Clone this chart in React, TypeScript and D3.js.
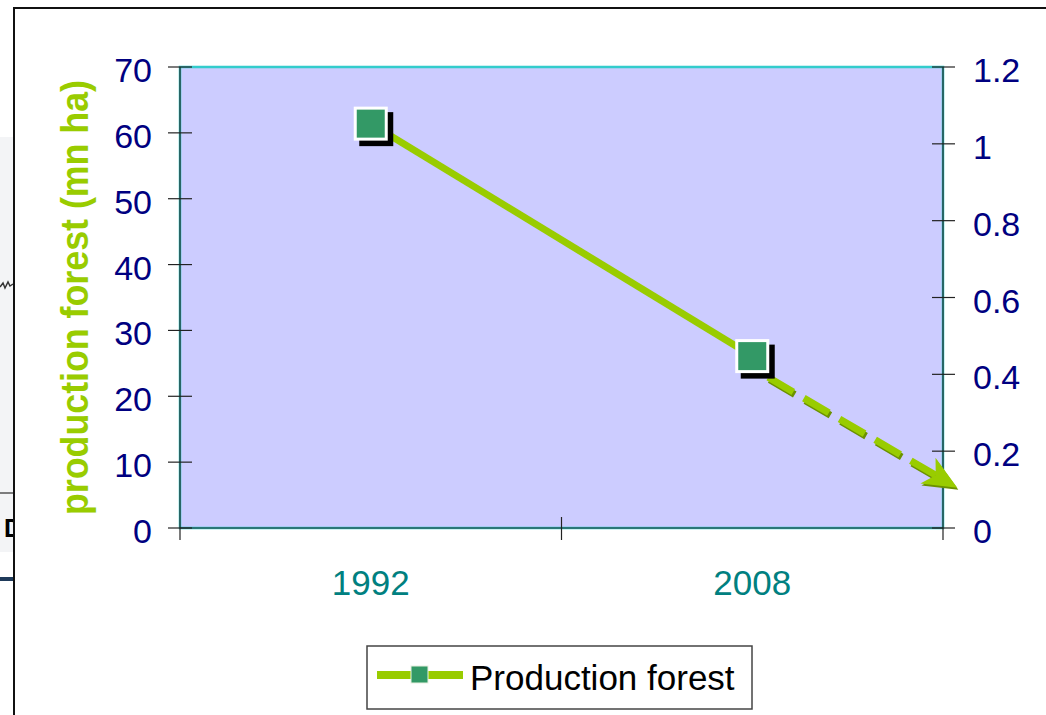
import { useEffect, useRef } from 'react';
import * as d3 from 'd3';

// chart data
const categories = ['1992', '2008'];
const categoryYears = [1992, 2008];
const productionForest = [61.4, 26.1];
const projectionYears = [2008, 2016.6];
const projectionValues = [24.3, 6.1];
const leftTicks = [0, 10, 20, 30, 40, 50, 60, 70];
const rightTicks = [0, 0.2, 0.4, 0.6, 0.8, 1, 1.2];
const rightTickLabels = ['0', '0.2', '0.4', '0.6', '0.8', '1', '1.2'];
const seriesName = 'Production forest';
const axisTitle = 'production forest (mn ha)';

const W = 1046;
const H = 715;
const FONT = '"Liberation Sans", Arial, sans-serif';
const LINE = '#99cc00';
const MARK = '#339966';
const NAVY = '#000080';

export default function App() {
  const svgRef = useRef<SVGSVGElement>(null);

  useEffect(() => {
    if (!svgRef.current) return;
    const svg = d3.select(svgRef.current);
    svg.selectAll('*').remove();

    const left = 180;
    const right = 943;
    const top = 67;
    const bottom = 528;

    const x = d3.scaleBand<string>().domain(categories).range([left, right]);
    const cx = (c: string) => (x(c) as number) + x.bandwidth() / 2;
    const yL = d3.scaleLinear().domain([0, 70]).range([bottom, top]);
    const yR = d3.scaleLinear().domain([0, 1.2]).range([bottom, top]);
    const xYear = d3.scaleLinear().domain(categoryYears).range(categories.map(cx));

    // leftover bits of the slide behind the chart
    svg.append('rect').attr('x', 0).attr('y', 137).attr('width', 14).attr('height', 415).attr('fill', '#f3f4f6');
    svg.append('line').attr('x1', 0).attr('x2', 14).attr('y1', 493).attr('y2', 493).attr('stroke', '#555').attr('stroke-width', 1.5);
    svg.append('path').attr('d', 'M0,287 L3,283 L5,288 L8,282 L10,286 L13,284')
      .attr('fill', 'none').attr('stroke', '#333').attr('stroke-width', 1.5);
    svg.append('text').attr('x', 4).attr('y', 537).attr('font-family', FONT).attr('font-weight', 'bold')
      .attr('font-size', 25).attr('fill', '#000').text('D');
    svg.append('rect').attr('x', 0).attr('y', 577).attr('width', 14).attr('height', 4).attr('fill', '#1f3a5a');

    // white slide frame
    svg.append('rect').attr('x', 14).attr('y', 8).attr('width', W).attr('height', H).attr('fill', '#fff');
    svg.append('path').attr('d', `M14,${H} L14,8 L${W},8`).attr('fill', 'none').attr('stroke', '#111').attr('stroke-width', 2);

    // plot area
    svg.append('rect')
      .attr('x', left).attr('y', top)
      .attr('width', right - left).attr('height', bottom - top)
      .attr('fill', '#ccccff').attr('stroke', '#33cccc').attr('stroke-width', 2.5);

    // axis lines
    const axes = svg.append('g').attr('stroke', '#222').attr('stroke-width', 1.2);
    axes.append('line').attr('x1', left).attr('x2', left).attr('y1', top).attr('y2', bottom);
    axes.append('line').attr('x1', right).attr('x2', right).attr('y1', top).attr('y2', bottom);
    axes.append('line').attr('x1', left).attr('x2', right).attr('y1', bottom).attr('y2', bottom);

    // left ticks + labels
    leftTicks.forEach(t => {
      axes.append('line').attr('x1', left - 12).attr('x2', left + 12).attr('y1', yL(t)).attr('y2', yL(t));
      svg.append('text')
        .attr('x', 152).attr('y', yL(t) + 3)
        .attr('text-anchor', 'end').attr('dominant-baseline', 'central')
        .attr('font-family', FONT).attr('font-size', 34).attr('fill', NAVY)
        .text(String(t));
    });

    // right ticks + labels
    rightTicks.forEach((t, i) => {
      axes.append('line').attr('x1', right - 11).attr('x2', right + 12).attr('y1', yR(t)).attr('y2', yR(t));
      svg.append('text')
        .attr('x', 973).attr('y', yR(t) + 3)
        .attr('dominant-baseline', 'central')
        .attr('font-family', FONT).attr('font-size', 34).attr('fill', NAVY)
        .text(rightTickLabels[i]);
    });

    // category ticks at band edges
    const edges = [left, ...categories.slice(1).map(c => x(c) as number), right];
    edges.forEach((e, i) => {
      const inner = i > 0 && i < edges.length - 1;
      axes.append('line').attr('x1', e).attr('x2', e).attr('y1', inner ? bottom - 11 : bottom).attr('y2', bottom + 12);
    });
    categories.forEach(c => {
      svg.append('text')
        .attr('x', cx(c)).attr('y', 595)
        .attr('text-anchor', 'middle')
        .attr('font-family', FONT).attr('font-size', 35).attr('fill', '#008080')
        .text(c);
    });

    // axis title
    svg.append('text')
      .attr('transform', 'translate(88,297.5) rotate(-90)')
      .attr('text-anchor', 'middle')
      .attr('textLength', 435).attr('lengthAdjust', 'spacingAndGlyphs')
      .attr('font-family', FONT).attr('font-weight', 'bold').attr('font-size', 39).attr('fill', LINE)
      .text(axisTitle);

    // projection (dashed arrow)
    const p0: [number, number] = [xYear(projectionYears[0]), yL(projectionValues[0])];
    const p1: [number, number] = [xYear(projectionYears[1]), yL(projectionValues[1])];
    const dx = p1[0] - p0[0];
    const dy = p1[1] - p0[1];
    const len = Math.hypot(dx, dy);
    const ux = dx / len;
    const uy = dy / len;
    const nx = -uy;
    const ny = ux;
    const headLen = 34;
    const lineEnd: [number, number] = [p1[0] - ux * (headLen - 12), p1[1] - uy * (headLen - 12)];
    const dashed = d3.line()([p0, lineEnd]) as string;
    svg.append('path').attr('d', dashed).attr('transform', 'translate(1.5,2.5)')
      .attr('stroke', '#6b9100').attr('stroke-width', 7).attr('fill', 'none')
      .attr('stroke-dasharray', '29 12.3').attr('stroke-dashoffset', 22.8);
    svg.append('path').attr('d', dashed)
      .attr('stroke', LINE).attr('stroke-width', 7).attr('fill', 'none')
      .attr('stroke-dasharray', '29 12.3').attr('stroke-dashoffset', 22.8);
    const bx = p1[0] - ux * headLen;
    const by = p1[1] - uy * headLen;
    const head = [
      [p1[0], p1[1]],
      [bx + nx * 15, by + ny * 15],
      [bx + ux * 9, by + uy * 9],
      [bx - nx * 15, by - ny * 15],
    ] as [number, number][];
    svg.append('path').attr('d', d3.line()(head) + 'Z').attr('transform', 'translate(1,2)').attr('fill', '#6b9100');
    svg.append('path').attr('d', d3.line()(head) + 'Z').attr('fill', LINE);

    // series line
    const pts = categories.map((c, i) => [cx(c), yL(productionForest[i])] as [number, number]);
    svg.append('path').attr('d', d3.line()(pts) as string)
      .attr('stroke', LINE).attr('stroke-width', 7).attr('fill', 'none');

    // markers with shadow
    const size = 31;
    pts.forEach(([px, py]) => {
      svg.append('rect')
        .attr('x', px - size / 2 - 1.5 + 5.5).attr('y', py - size / 2 - 1.5 + 5.5)
        .attr('width', size + 3).attr('height', size + 3).attr('fill', '#000');
      svg.append('rect')
        .attr('x', px - size / 2).attr('y', py - size / 2)
        .attr('width', size).attr('height', size)
        .attr('fill', MARK).attr('stroke', '#fff').attr('stroke-width', 3);
    });

    // legend
    const lg = svg.append('g');
    lg.append('rect').attr('x', 367).attr('y', 646).attr('width', 385).attr('height', 63)
      .attr('fill', '#fff').attr('stroke', '#444').attr('stroke-width', 1.5);
    lg.append('line').attr('x1', 377).attr('x2', 463).attr('y1', 675).attr('y2', 675)
      .attr('stroke', LINE).attr('stroke-width', 8);
    lg.append('rect').attr('x', 411).attr('y', 666).attr('width', 17).attr('height', 17)
      .attr('fill', MARK).attr('stroke', '#e8f0e0').attr('stroke-width', 1);
    lg.append('text').attr('x', 470).attr('y', 690)
      .attr('font-family', FONT).attr('font-size', 35).attr('fill', '#000')
      .text(seriesName);
  }, []);

  return (
    <svg
      ref={svgRef}
      width={W}
      height={H}
      style={{ position: 'absolute', left: 0, top: 0, background: '#fff' }}
    />
  );
}
